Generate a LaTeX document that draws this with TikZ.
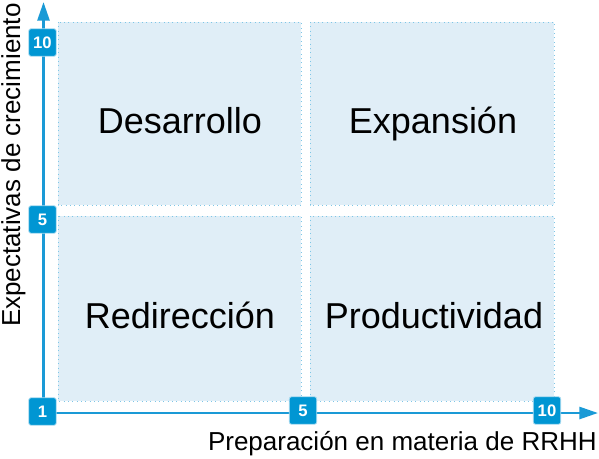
\documentclass[tikz,border=0pt]{standalone}
\usepackage{fontspec}
\setmainfont{Liberation Sans}
\usetikzlibrary{arrows.meta, positioning}
\definecolor{axisblue}{HTML}{1A9AD6}
\definecolor{tickblue}{HTML}{0096D3}
\definecolor{quadfill}{HTML}{E0EEF7}
\definecolor{quadline}{HTML}{7EC6E6}

\begin{document}
\begin{tikzpicture}[
    x=0.75pt, y=-0.75pt,
    quadrant/.style={rectangle, draw=quadline, fill=quadfill, line width=0.75pt, dash pattern=on 0.75pt off 2.5pt},
    quadtext/.style={anchor=base, font=\fontsize{27}{31}\selectfont},
    tick/.style={rectangle, rounded corners=1.5pt, minimum size=20.5pt, inner sep=0pt, fill=tickblue, draw=tickblue!35, line width=0.6pt, text=white, font=\fontsize{12.5}{14}\selectfont\bfseries},
    axis/.style={draw=axisblue, line width=2pt, -{Triangle[length=14pt, width=9pt]}},
    axislabel/.style={font=\fontsize{19.5}{22}\selectfont, inner sep=0pt}
]
\useasboundingbox (0,0) rectangle (599,458);

% Quadrants
\draw [quadrant] (58,22) rectangle (301,205);
\draw [quadrant] (310,22) rectangle (554,205);
\draw [quadrant] (58,216) rectangle (301,401);
\draw [quadrant] (310,216) rectangle (554,401);

\node (desarrollo) [quadtext] at (180,133) {Desarrollo};
\node (expansion) [quadtext] at (433,133) {Expansión};
\node (redireccion) [quadtext] at (180,328) {Redirección};
\node (productividad) [quadtext] at (434,328) {Productividad};

% Axes
\coordinate (origin) at (43.5,413);
\coordinate (xend) at (598,413);
\coordinate (yend) at (43.5,2);
\draw [axis] (origin) -- (xend);
\draw [axis] (origin) -- (yend);

% Ticks
\node (y10) [tick] at (42.5,42.5) {10};
\node (y5) [tick] at (42.5,219.5) {5};
\node (o1) [tick] at (42.5,411.5) {1};
\node (x5) [tick] at (303,410.5) {5};
\node (x10) [tick] at (547,410.5) {10};

% Axis labels
\node (xlabel) [axislabel, anchor=base east] at (597,450) {Preparación en materia de RRHH};
\node (ylabel) [axislabel, rotate=90, anchor=base east] at (20,3) {Expectativas de crecimiento};

\end{tikzpicture}
\end{document}
